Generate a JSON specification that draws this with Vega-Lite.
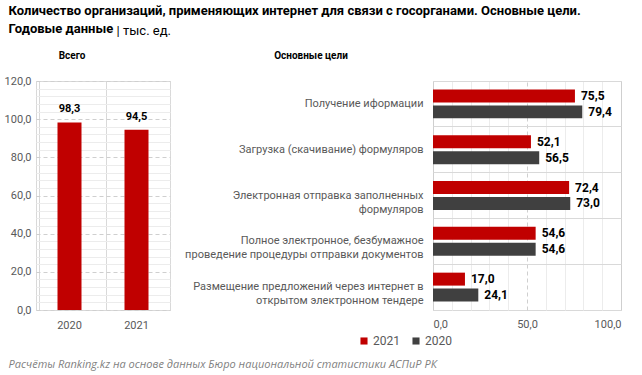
{
  "$schema": "https://vega.github.io/schema/vega-lite/v6.json",
  "padding": {"left": 3, "top": 4, "right": 4, "bottom": 6},
  "config": {
    "font": "Roboto",
    "view": {"stroke": "#d9d9d9"},
    "locale": {"number": {"decimal": ",", "thousands": " ", "grouping": [3], "currency": ["", ""]}},
    "axis": {"labelColor": "#595959", "labelFontSize": 11, "ticks": false, "domain": false, "title": null},
    "concat": {"spacing": 13}
  },
  "title": {
    "text": "Расчёты Ranking.kz на основе данных Бюро национальной статистики АСПиР РК",
    "orient": "bottom", "anchor": "start", "font": "Open Sans", "fontStyle": "italic",
    "fontWeight": "normal", "fontSize": 11, "color": "#7f7f7f", "offset": 12, "dx": 5
  },
  "vconcat": [
    {
      "title": {
        "text": ["Количество организаций, применяющих интернет для связи с госорганами. Основные цели.", "Годовые данные"],
        "anchor": "start", "fontSize": 13, "fontWeight": "bold", "color": "#000000", "lineHeight": 18, "dx": 5, "offset": -11
      },
      "vconcat": [
        {
          "title": {"text": "| тыс. ед.", "anchor": "start", "fontSize": 13, "fontWeight": "normal", "color": "#000000", "dx": 113, "dy": -13, "offset": 0},
          "hconcat": [
            {
              "width": 134,
              "height": 229,
              "title": {"text": "Всего", "fontSize": 10, "fontWeight": "bold", "color": "#000000", "frame": "group", "anchor": "middle", "dx": -31, "offset": 14},
              "data": {"values": [
                {"year": "2020", "value": 98.3},
                {"year": "2021", "value": 94.5}
              ]},
              "encoding": {
                "x": {"field": "year", "type": "nominal",
                  "axis": {"labelAngle": 0, "grid": true, "bandPosition": 0, "gridColor": "#d9d9d9", "labelPadding": 9}},
                "y": {"field": "value", "type": "quantitative", "scale": {"domain": [0, 120]},
                  "axis": {"values": [0,4,8,12,16,20,24,28,32,36,40,44,48,52,56,60,64,68,72,76,80,84,88,92,96,100,104,108,112,116,120],
                    "format": ".1f", "labelExpr": "datum.value % 20 === 0 ? datum.label : ''", "labelPadding": 5,
                    "gridColor": {"condition": {"test": "datum.value % 20 === 0", "value": "#cfcfcf"}, "value": "#ececec"},
                    "gridDash": {"condition": {"test": "datum.value % 20 === 0", "value": [4, 3]}, "value": []}}}
              },
              "layer": [
                {"mark": {"type": "bar", "size": 24, "color": "#C00000"}},
                {"mark": {"type": "text", "dy": -13, "fontSize": 11, "fontWeight": "bold", "color": "#000000"},
                  "encoding": {"text": {"field": "value", "type": "quantitative", "format": ".1f"}}}
              ]
            },
            {
              "width": 188,
              "height": 229,
              "title": {"text": "Основные цели", "fontSize": 10, "fontWeight": "bold", "color": "#000000", "frame": "group", "anchor": "middle", "dx": -216, "offset": 20},
              "data": {"values": [
                {"goal": "Получение иформации", "year": "2021", "value": 75.5},
                {"goal": "Получение иформации", "year": "2020", "value": 79.4},
                {"goal": "Загрузка (скачивание) формуляров", "year": "2021", "value": 52.1},
                {"goal": "Загрузка (скачивание) формуляров", "year": "2020", "value": 56.5},
                {"goal": "Электронная отправка заполненных|формуляров", "year": "2021", "value": 72.4},
                {"goal": "Электронная отправка заполненных|формуляров", "year": "2020", "value": 73.0},
                {"goal": "Полное электронное, безбумажное|проведение процедуры отправки документов", "year": "2021", "value": 54.6},
                {"goal": "Полное электронное, безбумажное|проведение процедуры отправки документов", "year": "2020", "value": 54.6},
                {"goal": "Размещение предложений через интернет в|открытом электронном тендере", "year": "2021", "value": 17.0},
                {"goal": "Размещение предложений через интернет в|открытом электронном тендере", "year": "2020", "value": 24.1}
              ]},
              "encoding": {
                "y": {"field": "goal", "type": "nominal", "sort": null,
                  "scale": {"paddingInner": 0, "paddingOuter": 0},
                  "axis": {"labelExpr": "split(datum.value, '|')", "labelLimit": 320, "labelPadding": 10, "labelLineHeight": 14,
                    "grid": true, "bandPosition": 0, "gridColor": "#d9d9d9"}},
                "yOffset": {"field": "year", "type": "nominal", "sort": ["2021", "2020"],
                  "scale": {"paddingInner": 0.1875, "paddingOuter": 0.53}},
                "x": {"field": "value", "type": "quantitative", "scale": {"domain": [0, 100]},
                  "axis": {"values": [0,10,20,30,40,50,60,70,80,90,100], "format": ".1f",
                    "labelExpr": "datum.value % 50 === 0 ? datum.label : ''", "labelPadding": 8,
                    "gridColor": {"condition": {"test": "datum.value % 50 === 0", "value": "#cfcfcf"}, "value": "#ececec"},
                    "gridDash": {"condition": {"test": "datum.value === 50", "value": [4, 3]}, "value": []}}}
              },
              "layer": [
                {"mark": {"type": "bar"},
                  "encoding": {"color": {"field": "year", "type": "nominal",
                    "scale": {"domain": ["2021", "2020"], "range": ["#C00000", "#404040"]},
                    "legend": {"title": null, "orient": "none", "legendX": 322, "legendY": 254, "direction": "horizontal",
                      "symbolType": "square", "symbolSize": 50, "symbolStrokeWidth": 0, "labelFontSize": 12, "labelColor": "#595959", "columnPadding": 10, "labelOffset": 3}}}},
                {"mark": {"type": "text", "align": "left", "dx": 6, "fontSize": 12, "fontWeight": "bold", "color": "#000000"},
                  "encoding": {"text": {"field": "value", "type": "quantitative", "format": ".1f"}}}
              ]
            }
          ]
        }
      ]
    }
  ]
}
